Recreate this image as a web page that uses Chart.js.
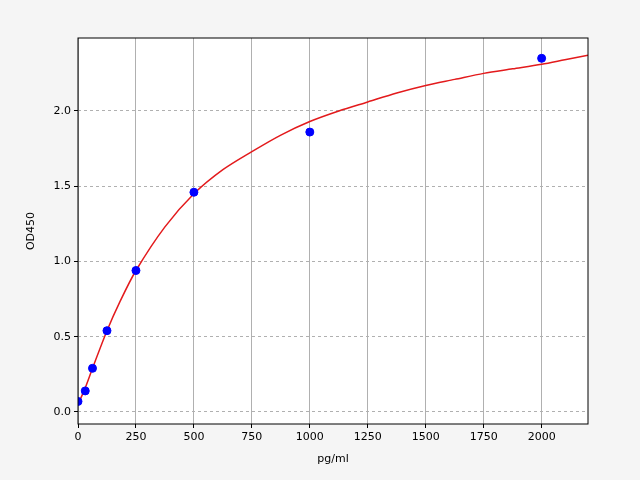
<!DOCTYPE html>
<html><head><script src="https://cdn.jsdelivr.net/npm/chart.js"></script>
<style>body{margin:0;background:#f5f5f5}</style></head>
<body><canvas id="c" width="640" height="480"></canvas>
<script>
const pointX=[0,31.25,62.5,125,250,500,1000,2000];
const pointY=[0.07,0.14,0.29,0.54,0.94,1.46,1.86,2.35];
const curveX=[0,31.25,62.5,125,180,250,375,500,625,750,875,1000,1125,1250,1375,1500,1625,1750,1875,2000,2100,2200];
const curveY=[0.05,0.16,0.29,0.54,0.73,0.94,1.23,1.45,1.61,1.73,1.84,1.93,2.00,2.06,2.12,2.17,2.21,2.25,2.28,2.31,2.34,2.37];
const xTicks=[0,250,500,750,1000,1250,1500,1750,2000];
const yTicks=[0,0.5,1.0,1.5,2.0];
const bg={id:'bg',beforeDraw(c){const a=c.chartArea,x=c.ctx;x.save();x.fillStyle='#f5f5f5';x.fillRect(0,0,c.width,c.height);x.fillStyle='#fff';x.fillRect(a.left,a.top,a.right-a.left,a.bottom-a.top);x.restore();},
afterDraw(c){const a=c.chartArea,x=c.ctx;x.save();x.strokeStyle='#000';x.lineWidth=1;x.strokeRect(a.left,a.top,a.right-a.left,a.bottom-a.top);x.restore();}};
const font={family:'DejaVu Sans',size:11};
new Chart(document.getElementById('c'),{
type:'scatter',
data:{datasets:[
{data:pointX.map((x,i)=>({x,y:pointY[i]})),backgroundColor:'#0000ff',borderColor:'#0000ff',pointRadius:4,order:1},
{type:'line',data:curveX.map((x,i)=>({x,y:curveY[i]})),borderColor:'#e31a1c',borderWidth:1.5,pointRadius:0,tension:0.3,order:2}
]},
options:{responsive:false,animation:false,devicePixelRatio:1,
layout:{padding:{top:38,right:52,left:25,bottom:14}},
plugins:{legend:{display:false},tooltip:{enabled:false}},
scales:{
x:{type:'linear',min:0,max:2200,afterBuildTicks:s=>{s.ticks=xTicks.map(v=>({value:v}))},
afterFit:s=>{s.height=42},
ticks:{color:'#000',font,maxRotation:0,callback:v=>v},
grid:{color:'#b0b0b0',tickLength:4,tickColor:'#000'},border:{display:false},
title:{display:true,text:'pg/ml',color:'#000',font,padding:0}},
y:{type:'linear',min:-0.08,max:2.485,afterBuildTicks:s=>{s.ticks=yTicks.map(v=>({value:v}))},
afterFit:s=>{s.width=53},
ticks:{color:'#000',font,callback:v=>v.toFixed(1)},
grid:{color:'#b0b0b0',tickLength:4,tickColor:'#000'},border:{dash:[3,3],display:false},
title:{display:true,text:'OD450',color:'#000',font,padding:0}}
}},
plugins:[bg]});
</script></body></html>
